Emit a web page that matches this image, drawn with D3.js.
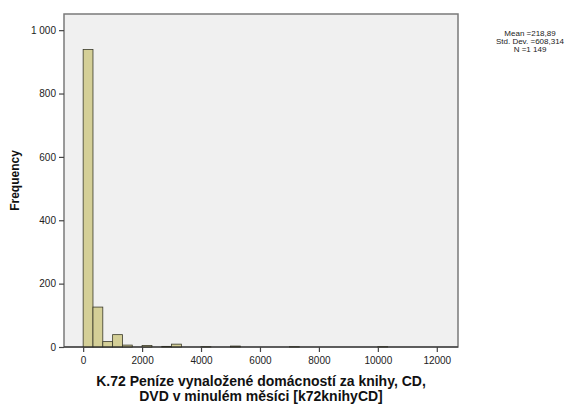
<!DOCTYPE html>
<html>
<head>
<meta charset="utf-8" />
<title>Histogram k72knihyCD</title>
<style>
html, body { margin: 0; padding: 0; background: #fff; }
#chart { width: 578px; height: 407px; }
text { font-family: "Liberation Sans", Arial, sans-serif; }
</style>
</head>
<body>
<div id="chart"></div>
<script src="https://d3js.org/d3.v7.min.js"></script>
<script>
!(function(){
    "use strict"

    // histogram bins (start of bin, width 333.33) and frequencies
    var binWidth = 333.33
    var binIndex = [0, 1, 2, 3, 4, 6, 8, 9, 12, 15, 21, 30]
    var counts   = [939, 126, 17, 39, 6, 5, 2, 9, 1, 3, 1, 1]
    var xTicks = [0, 2000, 4000, 6000, 8000, 10000, 12000]
    var yTicks = [0, 200, 400, 600, 800, 1000]
    var stats = ["Mean =218,89", "Std. Dev. =608,314", "N =1 149"]
    var xTitle = ["K.72 Peníze vynaložené domácností za knihy, CD,", "DVD v minulém měsíci [k72knihyCD]"]
    var yTitle = "Frequency"

    var width = 578, height = 407
    var margin = {top: 14, left: 64, right: 120, bottom: 60}

    var svg = d3.select("#chart").append("svg")
        .attr("width", width).attr("height", height)

    var plotW = width - margin.left - margin.right
    var plotH = height - margin.top - margin.bottom

    var x = d3.scaleLinear().domain([-650, 12720]).range([0, plotW])
    var y = d3.scaleLinear().domain([0, 1051]).range([plotH, 0])

    var g = svg.append("g").attr("transform", "translate(" + [margin.left, margin.top] + ")")

    g.append("rect")
        .attr("width", plotW).attr("height", plotH)
        .attr("fill", "#f0f0f0")
        .attr("stroke", "#7a7a7a").attr("stroke-width", 1.5)

    var bars = binIndex.map(function(b, i){ return {x0: b * binWidth, n: counts[i]} })

    g.append("g").selectAll("rect")
        .data(bars)
        .enter().append("rect")
        .attr("x", function(d){ return x(d.x0) })
        .attr("y", function(d){ return y(d.n) })
        .attr("width", function(d){ return x(d.x0 + binWidth) - x(d.x0) })
        .attr("height", function(d){ return plotH - y(d.n) })
        .attr("fill", "#d4cf97")
        .attr("stroke", "#3a3a2a").attr("stroke-width", 0.8)

    // baseline
    g.append("line")
        .attr("x1", 0).attr("x2", plotW)
        .attr("y1", plotH).attr("y2", plotH)
        .attr("stroke", "#222").attr("stroke-width", 1.2)

    var xAxis = g.append("g")
        .attr("transform", "translate(0," + plotH + ")")
        .call(d3.axisBottom(x).tickValues(xTicks).tickSize(5).tickSizeOuter(0).tickFormat(d3.format("d")))
    xAxis.select(".domain").remove()

    var yAxis = g.append("g")
        .call(d3.axisLeft(y).tickValues(yTicks).tickSize(5).tickSizeOuter(0)
            .tickFormat(function(d){ return d === 1000 ? "1 000" : d }))
    yAxis.select(".domain").remove()

    svg.selectAll(".tick line").attr("stroke", "#444").attr("stroke-width", 1.2)
    svg.selectAll(".tick text").attr("font-size", "10px").attr("fill", "#222")
        .attr("font-family", "Liberation Sans, Arial, sans-serif")
    xAxis.selectAll(".tick text").attr("dy", "0.85em")

    svg.append("text")
        .attr("transform", "translate(19," + (margin.top + plotH / 2) + ") rotate(-90)")
        .attr("text-anchor", "middle")
        .attr("font-size", "12px").attr("font-weight", "bold")
        .attr("fill", "#111")
        .text(yTitle)

    svg.append("g").selectAll("text")
        .data(xTitle)
        .enter().append("text")
        .attr("x", margin.left + plotW / 2)
        .attr("y", function(d, i){ return 386 + i * 15 })
        .attr("text-anchor", "middle")
        .attr("font-size", "14px").attr("font-weight", "bold")
        .attr("fill", "#111")
        .text(function(d){ return d })

    svg.append("g").selectAll("text")
        .data(stats)
        .enter().append("text")
        .attr("x", 530)
        .attr("y", function(d, i){ return 36 + i * 8 })
        .attr("text-anchor", "middle")
        .attr("font-size", "8px")
        .attr("fill", "#222")
        .text(function(d){ return d })

}());
</script>
</body>
</html>
